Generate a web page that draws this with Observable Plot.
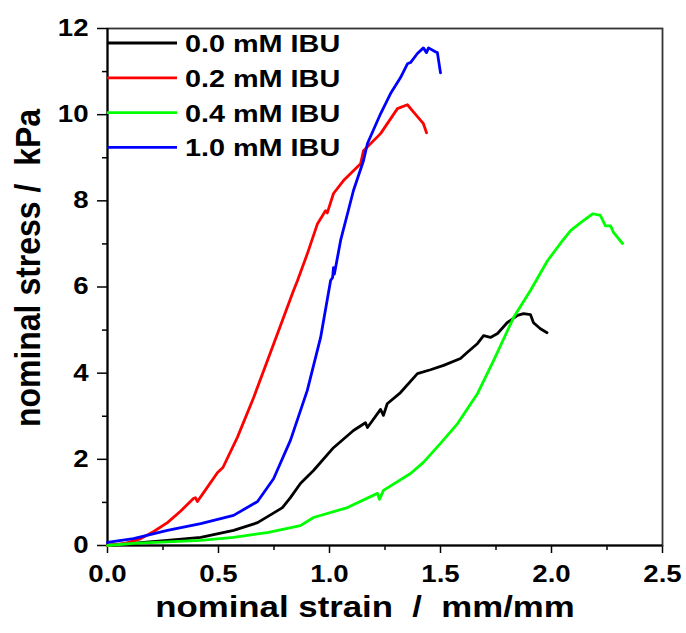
<!DOCTYPE html>
<html>
<head>
<meta charset="utf-8">
<script src="https://cdn.jsdelivr.net/npm/d3@7"></script>
<script src="https://cdn.jsdelivr.net/npm/@observablehq/plot@0.6"></script>
<style>
  html, body { margin: 0; padding: 0; background: #fff; }
  #chart { position: relative; width: 686px; height: 633px; }
</style>
</head>
<body>
<div id="chart"></div>
<script>
// ---- data ----
const seriesNames = ["0.0 mM IBU", "0.2 mM IBU", "0.4 mM IBU", "1.0 mM IBU"];
const seriesColors = ["#000000", "#ff0000", "#00ff00", "#0000ff"];

const strain00 = [0, 0.27, 0.42, 0.568, 0.676, 0.766, 0.788, 0.824, 0.869, 0.928, 1.018, 1.108, 1.162, 1.171, 1.23, 1.243, 1.26, 1.32, 1.396, 1.455, 1.514, 1.59, 1.62, 1.667, 1.694, 1.725, 1.757, 1.80, 1.847, 1.874, 1.905, 1.919, 1.95, 1.98];
const stress00 = [0, 0.12, 0.19, 0.35, 0.53, 0.81, 0.88, 1.11, 1.44, 1.74, 2.27, 2.67, 2.85, 2.74, 3.16, 3.02, 3.29, 3.55, 3.99, 4.08, 4.18, 4.34, 4.48, 4.69, 4.87, 4.83, 4.92, 5.17, 5.34, 5.38, 5.36, 5.17, 5.03, 4.94];

const strain02 = [0, 0.08, 0.15, 0.21, 0.27, 0.33, 0.387, 0.396, 0.405, 0.44, 0.495, 0.52, 0.585, 0.658, 0.766, 0.838, 0.856, 0.90, 0.946, 0.982, 0.99, 1.018, 1.063, 1.14, 1.153, 1.23, 1.306, 1.351, 1.374, 1.40, 1.423, 1.437];
const stress02 = [0, 0.05, 0.16, 0.33, 0.53, 0.80, 1.09, 1.11, 1.02, 1.28, 1.69, 1.81, 2.51, 3.43, 4.92, 5.92, 6.15, 6.77, 7.47, 7.77, 7.72, 8.17, 8.47, 8.86, 9.16, 9.56, 10.14, 10.23, 10.09, 9.93, 9.79, 9.58];

const strain04 = [0, 0.117, 0.42, 0.568, 0.72, 0.869, 0.928, 1.081, 1.216, 1.225, 1.243, 1.365, 1.423, 1.50, 1.577, 1.667, 1.739, 1.829, 1.905, 1.982, 2.04, 2.086, 2.13, 2.185, 2.22, 2.243, 2.266, 2.28, 2.32];
const stress04 = [0, 0.05, 0.12, 0.19, 0.30, 0.46, 0.65, 0.88, 1.21, 1.07, 1.28, 1.67, 1.93, 2.37, 2.83, 3.53, 4.29, 5.29, 5.92, 6.61, 7.01, 7.31, 7.49, 7.70, 7.66, 7.42, 7.42, 7.26, 7.01];

const strain10 = [0, 0.117, 0.27, 0.42, 0.568, 0.676, 0.748, 0.824, 0.90, 0.96, 1.005, 1.014, 1.018, 1.022, 1.05, 1.081, 1.108, 1.153, 1.171, 1.23, 1.275, 1.32, 1.351, 1.365, 1.396, 1.423, 1.437, 1.446, 1.477, 1.486, 1.50];
const stress10 = [0.07, 0.16, 0.35, 0.51, 0.70, 1.02, 1.55, 2.44, 3.60, 4.83, 6.15, 6.22, 6.45, 6.30, 7.08, 7.70, 8.24, 8.93, 9.33, 10.02, 10.49, 10.86, 11.18, 11.21, 11.42, 11.55, 11.44, 11.55, 11.46, 11.44, 10.97];

const xTicks = [0, 0.5, 1.0, 1.5, 2.0, 2.5];
const xMinorTicks = [0.25, 0.75, 1.25, 1.75, 2.25];
const yTicks = [0, 2, 4, 6, 8, 10, 12];
const yMinorTicks = [1, 3, 5, 7, 9, 11];
const xLabel = "nominal strain\u00a0\u00a0/\u00a0\u00a0mm/mm";
const yLabel = "nominal stress\u00a0/\u00a0\u00a0kPa";

// ---- build table ----
const allX = [strain00, strain02, strain04, strain10];
const allY = [stress00, stress02, stress04, stress10];
const rows = [];
allX.forEach((xs, s) => xs.forEach((x, i) => rows.push({series: seriesNames[s], x, y: allY[s][i]})));

const W = 686, H = 633;
const mL = 107, mR = 24, mT = 28, mB = 88;
const FONT = "'Liberation Sans', Arial, sans-serif";

const plot = Plot.plot({
  width: W,
  height: H,
  marginLeft: mL,
  marginRight: mR,
  marginTop: mT,
  marginBottom: mB,
  style: {fontFamily: FONT, fontWeight: "bold", background: "#fff", color: "#000"},
  x: {domain: [0, 2.5]},
  y: {domain: [0, 12]},
  color: {domain: seriesNames, range: seriesColors},
  marks: [
    Plot.axisY(yTicks, {tickSize: 10, tickPadding: 9, fontSize: 23, strokeWidth: 1.5, label: null}),
    Plot.axisY(yMinorTicks, {tickSize: 5, text: null, strokeWidth: 1.5, label: null}),
    Plot.axisX(xTicks, {tickSize: 8, tickPadding: 12, fontSize: 23, strokeWidth: 1.5, label: null, tickFormat: d3.format(".1f")}),
    Plot.axisX(xMinorTicks, {tickSize: 5, text: null, strokeWidth: 1.5, label: null}),
    Plot.frame({stroke: "#333", strokeWidth: 1.8}),
    Plot.ruleX([0], {stroke: "#000", strokeWidth: 2}),
    Plot.ruleY([0], {stroke: "#000", strokeWidth: 2}),
    Plot.line(rows, {x: "x", y: "y", z: "series", stroke: "series", strokeWidth: 2.8, strokeLinejoin: "round", strokeLinecap: "round"}),
    Plot.text([xLabel], {frameAnchor: "bottom", text: d => d, textAnchor: "middle", dx: -20, dy: 62, lineAnchor: "middle", fontSize: 29, fill: "#000"}),
    Plot.text([yLabel], {frameAnchor: "left", text: d => d, textAnchor: "middle", rotate: -90, dx: -79, dy: -19, lineAnchor: "middle", fontSize: 32, fill: "#000"})
  ]
});

// legend inside the plot area (top-left)
const svg = d3.select(plot);
const leg = svg.append("g").attr("font-family", FONT).attr("font-weight", "bold").attr("font-size", 24).attr("text-anchor", "start");
seriesNames.forEach((name, i) => {
  const yy = 43 + i * 34.8;
  leg.append("line").attr("x1", mL).attr("x2", mL + 70).attr("y1", yy).attr("y2", yy)
    .attr("stroke", seriesColors[i]).attr("stroke-width", 2.8);
  leg.append("text").attr("transform", `translate(${mL + 78},${yy + 9})`).attr("fill", "#000").text(name);
});

// the reference's lettering is drawn horizontally stretched
svg.selectAll("text").each(function() {
  const t = this.getAttribute("transform") || "";
  if (t.includes("rotate")) this.setAttribute("transform", t + " scale(1,1.1)");
  else this.setAttribute("transform", t + " scale(1.2,1)");
});

document.getElementById("chart").appendChild(plot);
</script>
</body>
</html>
